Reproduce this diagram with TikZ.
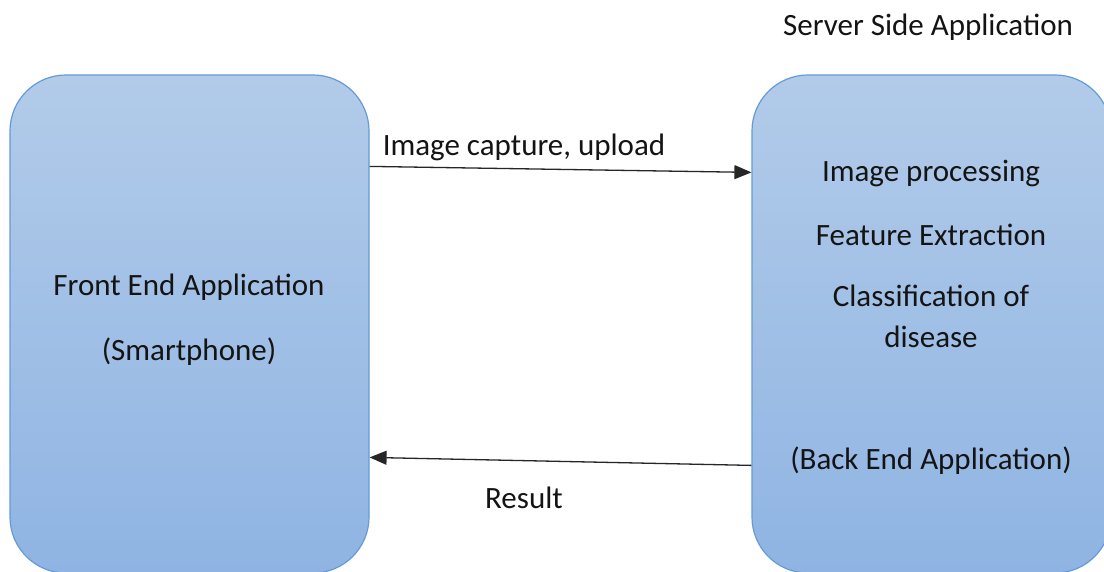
\documentclass[tikz,border=0pt]{standalone}
\usepackage{fontspec}
\setmainfont{Carlito}
\usetikzlibrary{arrows.meta,calc}
\definecolor{boxtop}{RGB}{178,203,233}
\definecolor{boxbot}{RGB}{143,180,227}
\definecolor{boxline}{RGB}{100,155,215}
\definecolor{txt}{RGB}{20,20,20}
\tikzset{
  appbox/.style={draw=boxline, line width=1.2pt, rounded corners=56pt,
    top color=boxtop, bottom color=boxbot, minimum width=359pt,
    minimum height=498pt, inner sep=0pt},
  lbl/.style={font=\fontsize{31}{36}\selectfont, text=txt, inner sep=0pt, anchor=center},
  flow/.style={line width=1.3pt, draw=black!85, -{Triangle[length=17pt,width=14pt]}}
}
\begin{document}
\begin{tikzpicture}[x=1pt,y=-1pt]
  \useasboundingbox (0,0) rectangle (1104,572);
  \clip (0,0) rectangle (1104,572);
  \fill[white] (0,0) rectangle (1104,572);

  % the two applications
  \node[appbox] (fe) at (189.5,324) {};
  \node[appbox] (be) at (931.5,324) {};

  % texts
  \node[lbl] (srv) at (928,27) {Server Side Application};
  \node[lbl] (fe1) at (189,287) {Front End Application};
  \node[lbl] (fe2) at (189,352) {(Smartphone)};
  \node[lbl] (be1) at (931,174) {Image processing};
  \node[lbl] (be2) at (931,235) {Feature Extraction};
  \node[lbl] (be3) at (931,296) {Classification of};
  \node[lbl] (be4) at (931,337) {disease};
  \node[lbl] (be5) at (931,461) {(Back End Application)};

  % request and response
  \draw[flow] ($(fe.north east)+(0,92)$) coordinate (up1)
      -- ($(be.north west)+(0,98)$) coordinate (up2);
  \draw[flow] ($(be.north west)+(0,391)$) coordinate (dn1)
      -- ($(fe.north east)+(0,383)$) coordinate (dn2);

  \node[lbl] (upl) at (524,147) {Image capture, upload};
  \node[lbl] (res) at (524,498) {Result};
\end{tikzpicture}
\end{document}
